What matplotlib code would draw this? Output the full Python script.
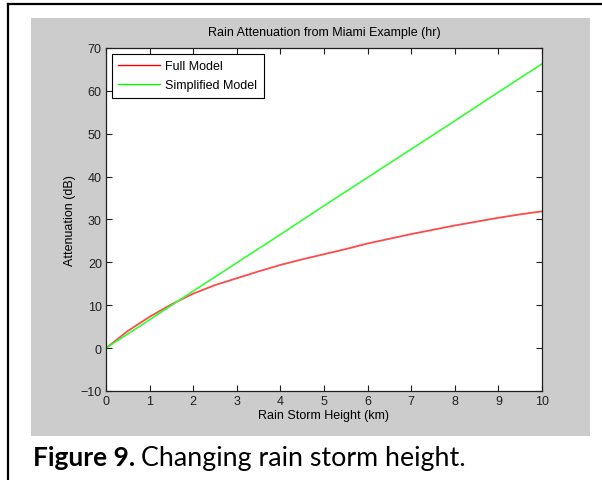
import matplotlib
matplotlib.use("Agg")
import matplotlib.pyplot as plt
from matplotlib.patches import Rectangle
from matplotlib.lines import Line2D

# storm height (km) and attenuation (dB)
height_full = [0, 0.5, 1, 1.5, 2, 2.5, 3, 3.5, 4, 4.5, 5,
               5.5, 6, 6.5, 7, 7.5, 8, 8.5, 9, 9.5, 10]
atten_full = [0, 4.0, 7.3, 10.2, 12.7, 14.7, 16.3, 17.9, 19.4, 20.7, 21.9,
              23.1, 24.4, 25.5, 26.6, 27.6, 28.6, 29.5, 30.4, 31.2, 31.9]
height_simple = [0, 1, 2, 3, 4, 5, 6, 7, 8, 9, 10]
atten_simple = [0, 6.6, 13.3, 19.9, 26.5, 33.2, 39.8, 46.4, 53.0, 59.7, 66.3]

x_ticks = list(range(0, 11))
y_ticks = [-10, 0, 10, 20, 30, 40, 50, 60, 70]

W, H = 602, 481
plt.rcParams["font.family"] = ["Liberation Sans", "DejaVu Sans"]

fig = plt.figure(figsize=(W / 100, H / 100), dpi=100)
fig.patch.set_facecolor("white")

# page frame lines (top and left)
fig.add_artist(Line2D([8 / W, 1], [1 - 5 / H, 1 - 5 / H], color="black", lw=1.6))
fig.add_artist(Line2D([8 / W, 8 / W], [0, 1 - 5 / H], color="black", lw=1.6))

# grey MATLAB figure background
fig.add_artist(Rectangle((31 / W, 1 - 437 / H), (590 - 31) / W, (437 - 19) / H,
                         transform=fig.transFigure, facecolor="#cccccc",
                         edgecolor="none", zorder=0))

ax = fig.add_axes([106 / W, 1 - 392 / H, 436 / W, 343 / H])
ax.set_facecolor("white")
ax.plot(height_full, atten_full, color="#ff4a4a", lw=1.3, label="Full Model")
ax.plot(height_simple, atten_simple, color="#33ff33", lw=1.2, label="Simplified Model")

ax.set_xlim(0, 10)
ax.set_ylim(-10, 70)
ax.set_xticks(x_ticks)
ax.set_yticks(y_ticks)
ax.tick_params(direction="in", top=True, right=True, length=4, width=0.8,
               labelsize=9, pad=3, colors="#202020")
for s in ax.spines.values():
    s.set_linewidth(0.9)
    s.set_color("#202020")

ax.set_title("Rain Attenuation from Miami Example (hr)", fontsize=9, pad=9)
ax.set_xlabel("Rain Storm Height (km)", fontsize=9, labelpad=1)
ax.set_ylabel("Attenuation (dB)", fontsize=9, labelpad=3)

leg = ax.legend(loc="upper left", fontsize=9, fancybox=False, framealpha=1,
                edgecolor="black", borderaxespad=0.45, handlelength=3.3,
                handletextpad=0.4, labelspacing=0.55, borderpad=0.55)
leg.get_frame().set_linewidth(0.8)
leg.get_lines()[0].set_color("red")
leg.get_lines()[1].set_color("#00ff00")
for ln in leg.get_lines():
    ln.set_linewidth(1.0)

# caption: bold "Figure 9." followed by normal text
cap_y = 1 - 466 / H
bold = fig.text(33 / W, cap_y, "Figure 9.", fontsize=19, fontweight="bold",
                family="Lato", va="baseline")
fig.canvas.draw()
bb = bold.get_window_extent(fig.canvas.get_renderer())
fig.text(bb.x1 / W + 6 / W, cap_y, "Changing rain storm height.", fontsize=19.3,
         family="Lato", va="baseline")

fig.savefig("out.png", dpi=100)
